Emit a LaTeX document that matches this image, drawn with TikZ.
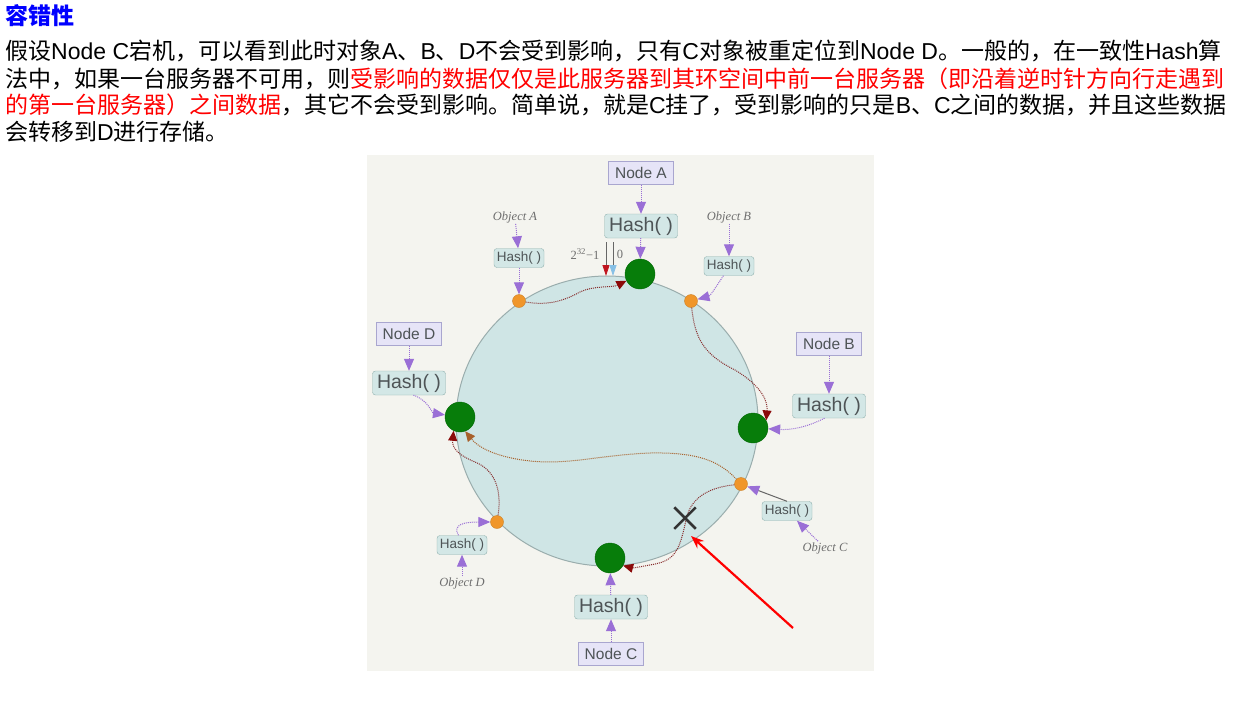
\documentclass[tikz,border=0pt]{standalone}
\usepackage{fontspec}
\setmainfont{Liberation Sans}
\newfontfamily\cjk{Noto Sans CJK SC}
\newfontfamily\objfont{Liberation Serif}
\usetikzlibrary{arrows.meta,shapes.misc}
\newcommand\zh[1]{{\cjk #1}}
\definecolor{diagbg}{HTML}{F4F4EF}
\definecolor{ringfill}{HTML}{CFE5E5}
\definecolor{ringdraw}{HTML}{9AADAD}
\definecolor{srvgreen}{HTML}{077D0A}
\definecolor{objorange}{HTML}{F0962A}
\definecolor{nodefill}{HTML}{E6E4F7}
\definecolor{nodeborder}{HTML}{A9A6CF}
\definecolor{hashfill}{HTML}{D3E7E6}
\definecolor{hashborder}{HTML}{8FB1AE}
\definecolor{boxtext}{HTML}{4E5456}
\definecolor{hashpurple}{HTML}{9A6FD6}
\definecolor{movered}{HTML}{8B0A0A}
\definecolor{movebrown}{HTML}{A8602A}
\definecolor{objgray}{HTML}{6E6E6E}
\definecolor{markred}{HTML}{C0141E}
\definecolor{markblue}{HTML}{86C0E6}
\begin{document}
\begin{tikzpicture}[x=1pt,y=-1pt,>={Triangle[length=12pt,width=10pt]},
    txt/.style={anchor=base west,inner sep=0pt,font=\fontsize{23}{27}\selectfont},
    server/.style={circle,fill=srvgreen,draw=srvgreen!85!black,minimum size=30pt,inner sep=0pt},
    obj/.style={circle,fill=objorange,draw=objorange!85!black,minimum size=13pt,inner sep=0pt},
    nodebox/.style={draw=nodeborder,fill=nodefill,text=boxtext,font=\fontsize{15.5}{16}\selectfont,minimum width=65pt,minimum height=23pt,inner sep=0pt},
    hashbox/.style={draw=hashborder,fill=hashfill,text=boxtext,rounded corners=3pt,font=\fontsize{19.5}{20}\selectfont,minimum width=73pt,minimum height=24pt,inner sep=0pt},
    smallhash/.style={hashbox,font=\fontsize{13.5}{14}\selectfont,minimum width=50pt,minimum height=19pt},
    objlabel/.style={text=objgray,font=\objfont\itshape\fontsize{12.5}{13}\selectfont,inner sep=1pt},
    hashline/.style={->,densely dotted,draw=hashpurple,line width=1pt},
    moveline/.style={-{Triangle[length=10pt,width=9pt,color=movered]},densely dotted,draw=movered!70!gray,line width=1pt}]
    \useasboundingbox (0,0) rectangle (1242,713);
    \fill[white] (0,0) rectangle (1242,713);

    \node[txt,text=blue] (title) at (5,24) {\zh{\bfseries 容错性}};
    \node[txt] (line1) at (5,59) {\zh{假设}Node C\zh{宕机，可以看到此时对象}A\zh{、}B\zh{、}D\zh{不会受到影响，只有}C\zh{对象被重定位到}Node D\zh{。一般的，在一致性}Hash\zh{算}};
    \node[txt] (line2) at (5,87) {\zh{法中，如果一台服务器不可用，则\textcolor{red}{受影响的数据仅仅是此服务器到其环空间中前一台服务器（即沿着逆时针方向行走遇到}}};
    \node[txt] (line3) at (5,113) {\zh{\textcolor{red}{的第一台服务器）之间数据}，其它不会受到影响。简单说，就是}C\zh{挂了，受到影响的只是}B\zh{、}C\zh{之间的数据，并且这些数据}};
    \node[txt] (line4) at (5,140) {\zh{会转移到}D\zh{进行存储。}};

    \fill[diagbg] (367,155) rectangle (874,671);
    \draw[fill=ringfill,draw=ringdraw,line width=1pt] (607,421) ellipse [x radius=151pt,y radius=145pt];

    \node[nodebox] (nodeA) at (641,173) {Node A};
    \node[hashbox] (hashA) at (641,226) {Hash( )};
    \node[server] (srvA) at (640,274) {};
    \node[nodebox] (nodeB) at (829,344) {Node B};
    \node[hashbox] (hashB) at (829,406) {Hash( )};
    \node[server] (srvB) at (753,428) {};
    \node[nodebox] (nodeC) at (611,654) {Node C};
    \node[hashbox] (hashC) at (611,607) {Hash( )};
    \node[server] (srvC) at (610,558) {};
    \node[nodebox] (nodeD) at (409,334) {Node D};
    \node[hashbox] (hashD) at (409,383) {Hash( )};
    \node[server] (srvD) at (460,417) {};

    \node[objlabel] (objA) at (515,217) {Object A};
    \node[smallhash] (hashObjA) at (519,258) {Hash( )};
    \node[obj] (dotA) at (519,301) {};
    \node[objlabel] (objB) at (729,217) {Object B};
    \node[smallhash] (hashObjB) at (729,266) {Hash( )};
    \node[obj] (dotB) at (691,301) {};
    \node[objlabel] (objC) at (825,548) {Object C};
    \node[smallhash] (hashObjC) at (787,511) {Hash( )};
    \node[obj] (dotC) at (741,484) {};
    \node[objlabel] (objD) at (462,583) {Object D};
    \node[smallhash] (hashObjD) at (462,545) {Hash( )};
    \node[obj] (dotD) at (497,522) {};

    \draw[hashline] (nodeA) -- (hashA);
    \draw[hashline] (hashA) -- (srvA);
    \draw[hashline] (nodeB) -- (hashB);
    \draw[hashline] (hashB.250) .. controls (805,428) and (790,430) .. (srvB);
    \draw[hashline] (nodeC) -- (hashC);
    \draw[hashline] (hashC) -- (srvC);
    \draw[hashline] (nodeD) -- (hashD);
    \draw[hashline] (hashD.290) .. controls (428,400) and (432,413) .. (srvD);
    \draw[hashline] (objA) -- (hashObjA);
    \draw[hashline] (hashObjA) -- (dotA);
    \draw[hashline] (objB) -- (hashObjB);
    \draw[hashline] (hashObjB.240) .. controls (714,290) and (710,296) .. (dotB);
    \draw[hashline] (objC) -- (hashObjC);
    \draw[draw=gray!80!black,line width=1pt,-{Triangle[length=12pt,width=10pt,color=hashpurple]}] (hashObjC.north) -- (dotC);
    \draw[hashline] (objD) -- (hashObjD);
    \draw[hashline] (hashObjD.110) .. controls (452,524) and (465,522) .. (dotD);

    \node[objlabel,font=\objfont\fontsize{12.5}{13}\selectfont] (lblMax) at (585,254) {2\textsuperscript{32}−1};
    \node[objlabel,font=\objfont\fontsize{12.5}{13}\selectfont] (lblZero) at (620,254) {0};
    \coordinate (maxTop) at (606,242);
    \coordinate (maxEnd) at (606,276);
    \coordinate (zeroTop) at (613,242);
    \coordinate (zeroEnd) at (613,276);
    \draw[gray!80!black,line width=0.8pt,-{Triangle[length=11pt,width=7pt,color=markred]}] (maxTop) -- (maxEnd);
    \draw[gray!80!black,line width=0.8pt,-{Triangle[length=11pt,width=7pt,color=markblue]}] (zeroTop) -- (zeroEnd);

    \draw[moveline] (dotA) .. controls (550,306) and (565,300) .. (580,292) .. controls (595,285) and (612,288) .. (srvA);
    \draw[moveline] (dotB) .. controls (695,340) and (705,355) .. (735,370) .. controls (760,385) and (768,400) .. (srvB.30);
    \draw[moveline,draw=movebrown,-{Triangle[length=10pt,width=9pt,color=movebrown]}] (dotC) .. controls (720,462) and (700,452) .. (650,453) .. controls (600,455) and (570,465) .. (530,461) .. controls (495,457) and (478,447) .. (srvD.290);
    \draw[moveline] (dotC) .. controls (705,488) and (690,500) .. (686,520) .. controls (680,548) and (676,560) .. (655,564) .. controls (640,567) and (632,568) .. (srvC.330);
    \draw[moveline] (dotD) .. controls (502,490) and (495,470) .. (475,462) .. controls (458,455) and (452,448) .. (srvD.245);

    \node[draw=black!80,cross out,line width=2.5pt,minimum size=19pt,inner sep=0pt] (crossC) at (685,518) {};
    \coordinate (redTail) at (793,628);
    \coordinate (redTip) at (691,536);
    \draw[red,line width=2.2pt,-{Stealth[length=13pt,width=10pt]}] (redTail) -- (redTip);
\end{tikzpicture}
\end{document}
